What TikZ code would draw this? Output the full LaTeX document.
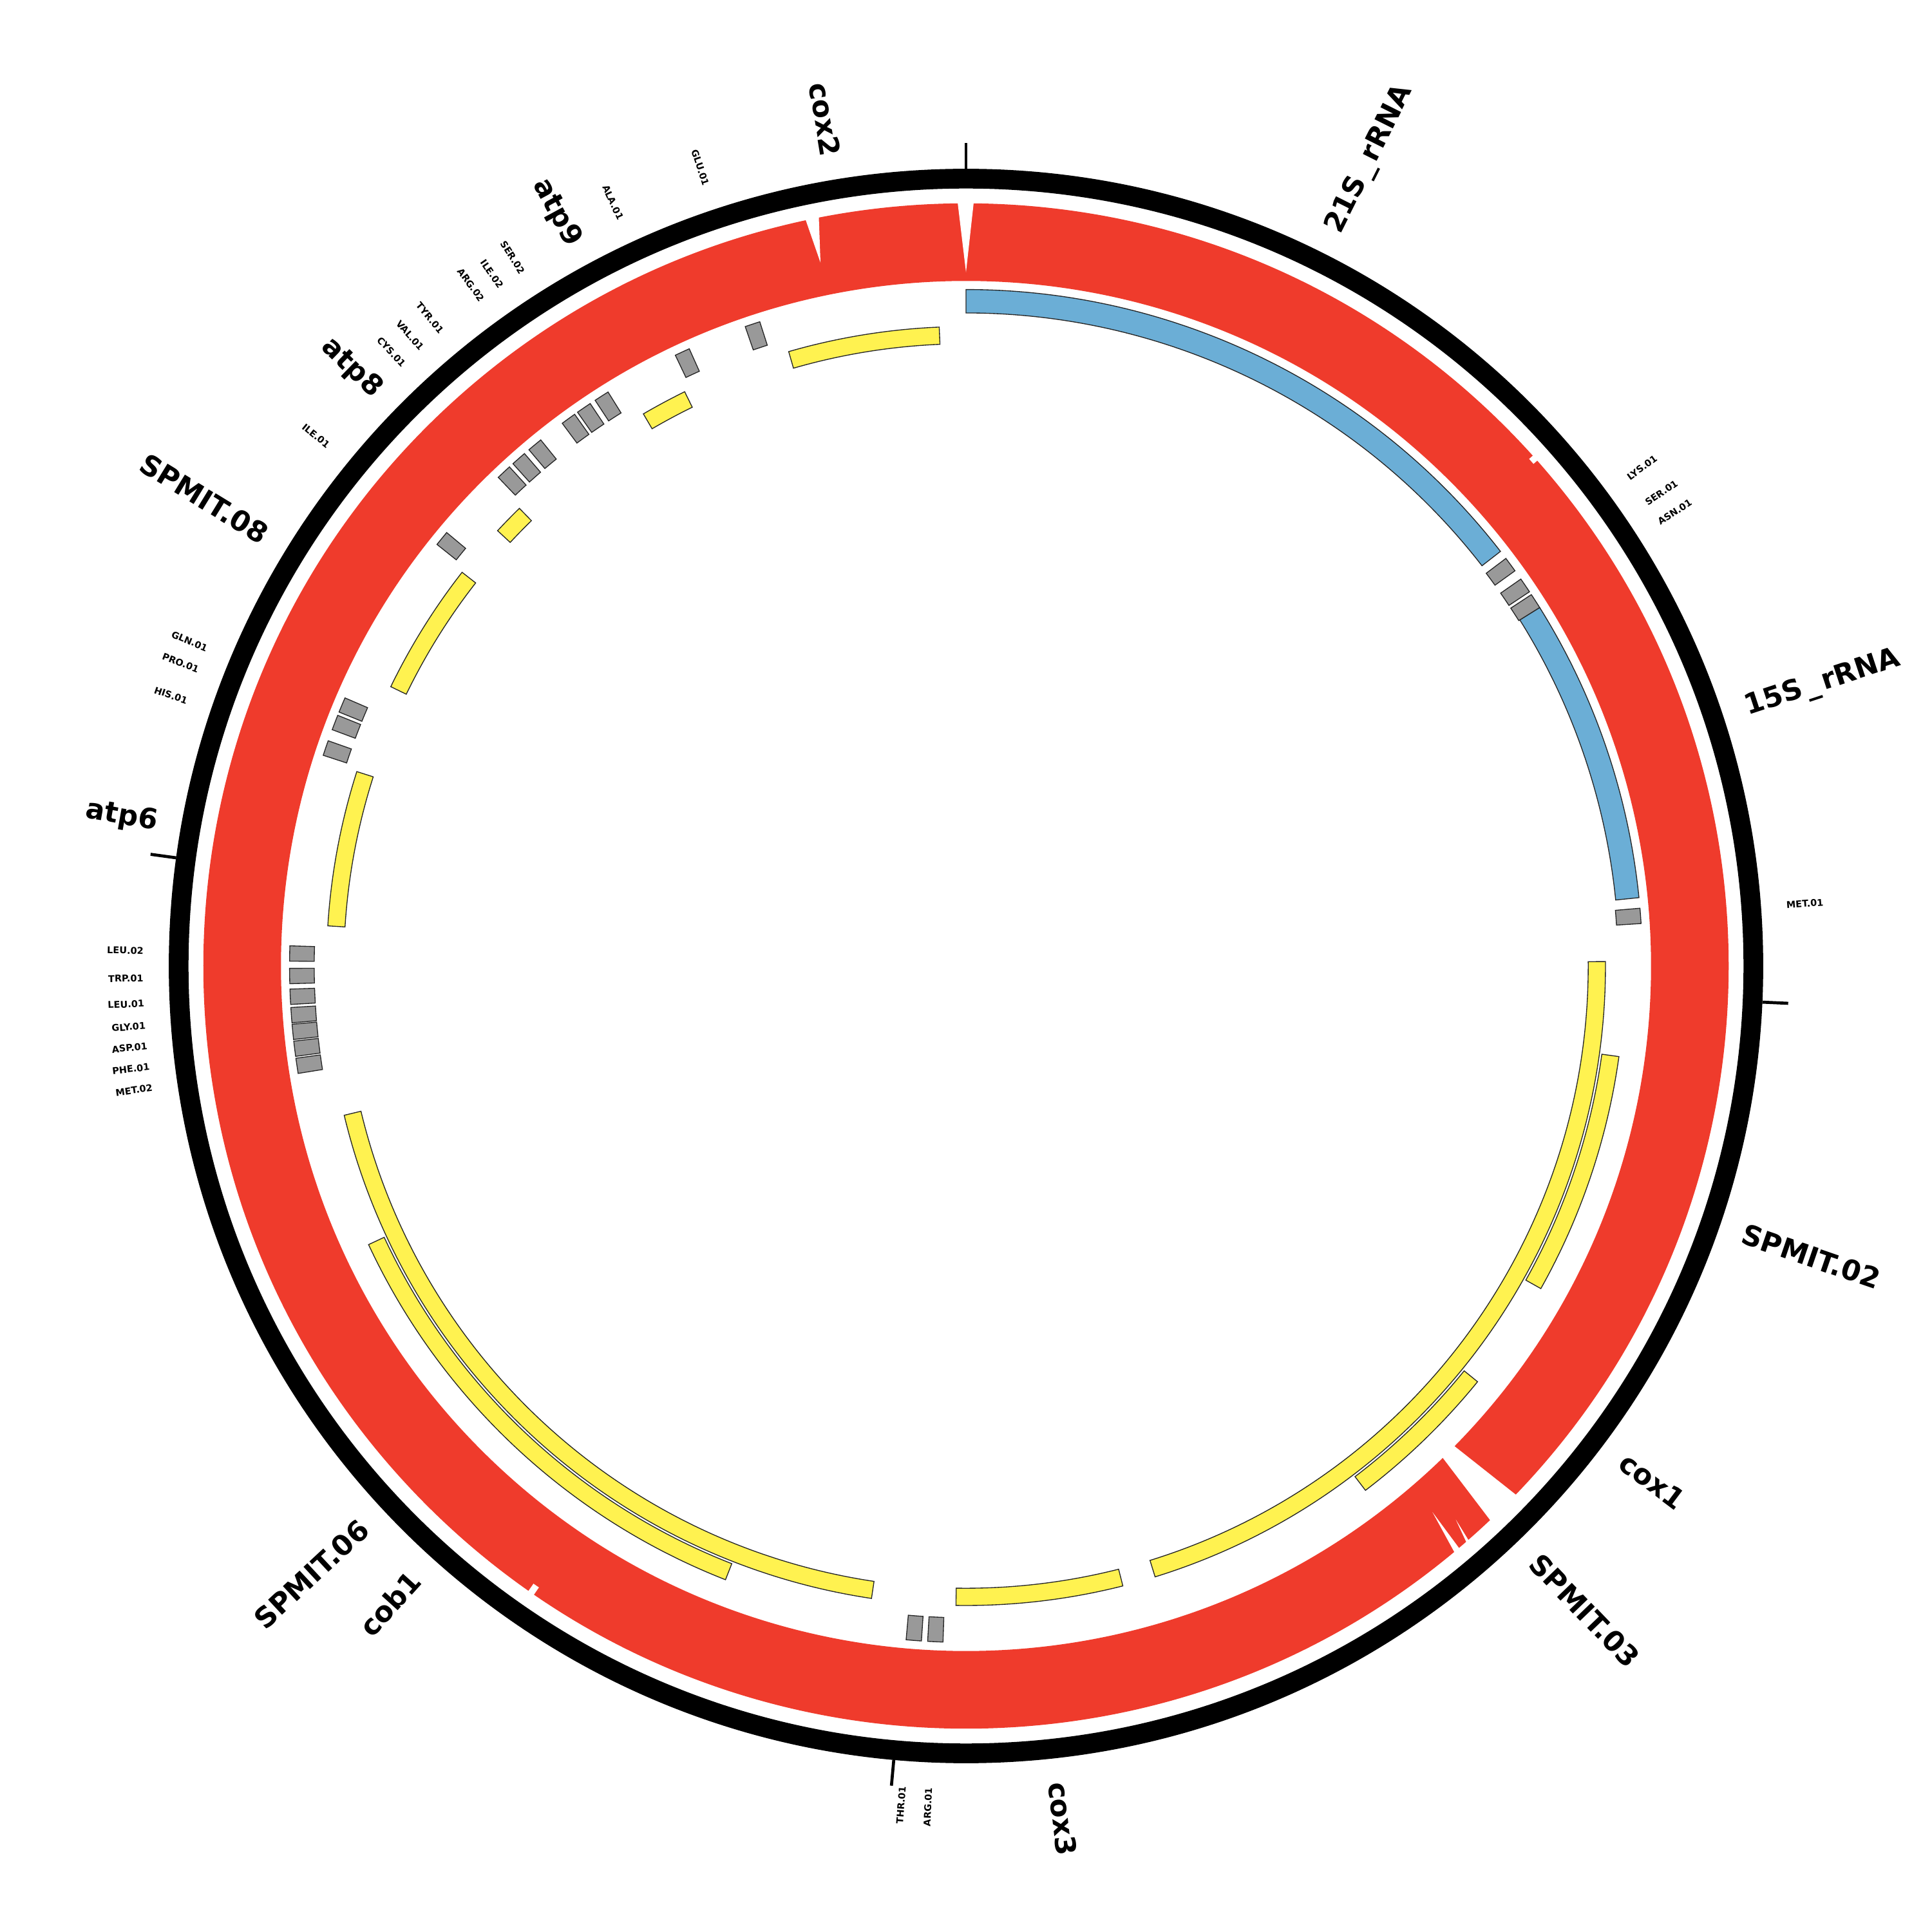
\documentclass[tikz,border=0pt]{standalone}
\usepackage{fontspec}
\setmainfont{DejaVu Sans}

\definecolor{genered}{RGB}{239,59,44}
\definecolor{rrnablue}{RGB}{107,174,214}
\definecolor{exonyellow}{RGB}{255,242,80}
\definecolor{trnagray}{RGB}{153,153,153}

% annular band from angle #1 to #2 (clockwise from top), radii #3 and #4
\newcommand\band[4]{({90-(#1)}:#3) arc[start angle={90-(#1)}, end angle={90-(#2)}, radius=#3]
  -- ({90-(#2)}:#4) arc[start angle={90-(#2)}, end angle={90-(#1)}, radius=#4] -- cycle}
\newcommand\usc{\kern0.12em\_\kern0.12em}

\begin{document}
\begin{tikzpicture}[
  trna/.style={fill=trnagray, draw=black!85, line width=0.2pt},
  exon/.style={fill=exonyellow, draw=black!85, line width=0.2pt},
  rrna/.style={fill=rrnablue, draw=black!85, line width=0.2pt},
  tickmark/.style={line width=0.7pt},
  biglab/.style={font=\fontsize{6.5}{7.5}\selectfont\bfseries, inner sep=0pt},
  smalllab/.style={font=\fontsize{2.15}{2.5}\selectfont\bfseries, inner sep=0pt}]

  \useasboundingbox (-7.84,-7.84) rectangle (7.84,7.84);

  % outer ring and scale ticks
  \draw[line width=1.6mm] (0,0) circle (6.39);
  \foreach \t in {0,92.6,185.2,277.8}
    \draw[tickmark] ({90-\t}:6.47) -- ({90-\t}:6.68);

  % red gene track
  \fill[genered] ({90-136.6}:6.19) arc[start angle=-46.6, end angle=-403.87, radius=6.19]
    -- ({90-494.5}:5.56) arc[start angle=-404.5, end angle=-45.9, radius=5.56] -- cycle;
  \fill[white] ({90+0.65}:6.22) -- ({90-0.6}:6.22) -- (90:5.63) -- cycle;
  \fill[white] ({90+12.16}:6.22) -- ({90+11.08}:6.22) -- ({90+11.69}:5.83) -- cycle;
  \fill[white] \band{48.0}{48.5}{6.15}{6.22};
  \fill[white] \band{214.5}{215.0}{6.12}{6.22};
  \fill[white] ({90-138.85}:6.22) -- ({90-139.1}:6.22) -- ({90-138.5}:6.0) -- cycle;
  \fill[white] ({90-139.75}:6.22) -- ({90-140.25}:6.22) -- ({90-139.5}:5.83) -- cycle;

  % rRNA
  \draw[rrna] \band{0}{52.2}{5.30}{5.49};
  \draw[rrna] \band{58.0}{84.2}{5.30}{5.49};

  % exons, inner and outer rows
  \foreach \a/\b in {343.9/357.6, 329.7/333.9, 312.9/315.7, 295.9/308.0, 273.6/287.7,
                     188.5/256.5, 165.8/180.9, 89.6/162.8}
    \draw[exon] \band{\a}{\b}{5.05}{5.19};
  \foreach \a/\b in {97.9/119.3, 129.1/142.7, 201.4/245}
    \draw[exon] \band{\a}{\b}{5.21}{5.35};

  % tRNAs
  \foreach \a/\name [count=\i] in {53.6/LYS.01, 55.76/SER.01, 57.35/ASN.01, 85.75/MET.01} {
    \draw[trna] \band{\a-0.65}{\a+0.65}{5.29}{5.49};
    \node[smalllab, anchor=west, rotate=90-\a] (tr\i) at ({90-\a}:6.67) {\name};
  }
  \foreach \a/\name [count=\i] in {182.6/ARG.01, 184.43/THR.01, 261.51/MET.02, 262.97/PHE.01,
      264.41/ASP.01, 265.83/GLY.01, 267.39/LEU.01, 269.15/TRP.01, 271.06/LEU.02,
      288.8/HIS.01, 291.1/PRO.01, 292.7/GLN.01, 309.2/ILE.01, 316.9/CYS.01,
      318.6/VAL.01, 320.4/TYR.01, 324.0/ARG.02, 325.6/ILE.02, 327.4/SER.02,
      335.2/ALA.01, 341.6/GLU.01} {
    \draw[trna] \band{\a-0.65}{\a+0.65}{5.29}{5.49};
    \node[smalllab, anchor=east, rotate=270-\a] (tl\i) at ({90-\a}:6.67) {\name};
  }

  % gene names
  \foreach \a/\name [count=\i] in {26.6/21S\usc rRNA, 71.74/15S\usc rRNA, 108.98/SPMIT.02,
      126.9/cox1, 136.17/SPMIT.03, 173.53/cox3}
    \node[biglab, anchor=west, rotate=90-\a] (gr\i) at ({90-\a}:6.66) {\name};
  \foreach \a/\name [count=\i] in {222.08/cob1, 227.1/SPMIT.06, 280.05/atp6,
      301.53/SPMIT.08, 314.23/atp8, 331.48/atp9, 350.54/cox2}
    \node[biglab, anchor=east, rotate=270-\a] (gl\i) at ({90-\a}:6.66) {\name};
\end{tikzpicture}
\end{document}
